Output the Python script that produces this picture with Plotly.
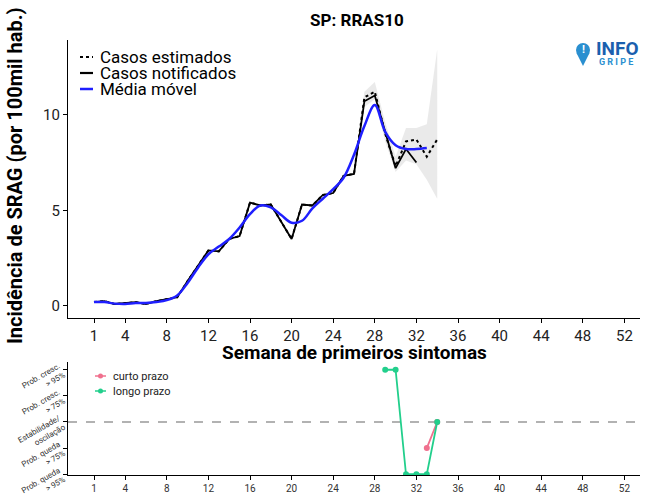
import plotly.graph_objects as go

# ---------------- data ----------------
weeks_notified = list(range(1, 33))
notified = [0.2, 0.25, 0.1, 0.15, 0.2, 0.1, 0.25, 0.35, 0.45, 1.3, 2.1, 2.9, 2.85, 3.5, 3.65, 5.4,
            5.25, 5.3, 4.4, 3.5, 5.3, 5.25, 5.8, 5.9, 6.8, 6.9, 10.7, 11.0, 9.1, 7.2, 8.2, 7.5]

weeks_estimated = list(range(1, 35))
estimated = [0.2, 0.25, 0.1, 0.15, 0.2, 0.1, 0.25, 0.35, 0.45, 1.3, 2.1, 2.9, 2.85, 3.5, 3.65, 5.4,
             5.25, 5.3, 4.4, 3.5, 5.3, 5.25, 5.8, 5.9, 6.8, 6.9, 10.9, 11.2, 9.0, 7.3, 8.6, 8.7, 7.8, 8.7]

weeks_ci = [26, 27, 28, 29, 30, 31, 32, 33, 34]
ci_lower = [6.8, 10.4, 10.8, 8.6, 7.0, 7.6, 7.4, 6.6, 5.6]
ci_upper = [7.1, 11.2, 11.7, 9.6, 7.8, 9.3, 9.3, 9.5, 13.4]

weeks_ma = list(range(1, 34))
moving_avg = [0.2, 0.2, 0.12, 0.1, 0.15, 0.15, 0.2, 0.3, 0.55, 1.2, 2.0, 2.7, 3.1, 3.5, 4.1, 4.8,
              5.25, 5.15, 4.75, 4.35, 4.45, 5.1, 5.6, 6.1, 6.7, 7.9, 9.4, 10.5, 9.1, 8.4, 8.2, 8.2, 8.25]

weeks_short = [33, 34]
trend_short = [-1, 0]
weeks_long = [29, 30, 31, 32, 33, 34]
trend_long = [2, 2, -2, -2, -2, 0]

x_ticks = [1, 4, 8, 12, 16, 20, 24, 28, 32, 36, 40, 44, 48, 52]
trend_levels = [-2, -1, 0, 1, 2]
trend_labels = ["Prob. queda<br>> 95%", "Prob. queda<br>> 75%", "Estabilidade/<br>oscilação",
                "Prob. cresc.<br>> 75%", "Prob. cresc.<br>> 95%"]

FONT = "Roboto"
BLUE = "#1f1fff"
PINK = "#f0708e"
GREEN = "#22cf8c"

fig = go.Figure()

# CI band
fig.add_trace(go.Scatter(x=weeks_ci, y=ci_upper, mode="lines", line=dict(width=0),
                         showlegend=False, hoverinfo="skip", xaxis="x", yaxis="y"))
fig.add_trace(go.Scatter(x=weeks_ci, y=ci_lower, mode="lines", line=dict(width=0),
                         fill="tonexty", fillcolor="rgba(170,170,170,0.25)",
                         showlegend=False, hoverinfo="skip", xaxis="x", yaxis="y"))

fig.add_trace(go.Scatter(x=weeks_estimated, y=estimated, mode="lines", name="Casos estimados",
                         line=dict(color="black", width=2, dash="dot"), showlegend=False,
                         xaxis="x", yaxis="y"))
fig.add_trace(go.Scatter(x=weeks_notified, y=notified, mode="lines", name="Casos notificados",
                         line=dict(color="black", width=1.8), showlegend=False, xaxis="x", yaxis="y"))
fig.add_trace(go.Scatter(x=weeks_ma, y=moving_avg, mode="lines", name="Média móvel",
                         line=dict(color=BLUE, width=2.5, shape="spline"), showlegend=False,
                         xaxis="x", yaxis="y"))

# trend panel
fig.add_trace(go.Scatter(x=weeks_short, y=trend_short, mode="lines+markers", name="curto prazo",
                         line=dict(color=PINK, width=1.8), marker=dict(size=6, color=PINK),
                         showlegend=False, xaxis="x2", yaxis="y2"))
fig.add_trace(go.Scatter(x=weeks_long, y=trend_long, mode="lines+markers", name="longo prazo",
                         line=dict(color=GREEN, width=1.8), marker=dict(size=6, color=GREEN),
                         showlegend=False, xaxis="x2", yaxis="y2"))

axis_common = dict(showline=True, linecolor="black", linewidth=1.3, ticks="outside",
                   ticklen=4, tickcolor="black", showgrid=False, zeroline=False, mirror=False,
                   automargin=False)

fig.update_layout(
    width=646, height=504,
    margin=dict(l=68, r=6, t=40, b=29),
    paper_bgcolor="white", plot_bgcolor="white",
    font=dict(family=FONT, color="#222"),
    showlegend=False,
    title=dict(text="<b>SP: RRAS10</b>", x=0.505, xref="paper", y=0.96, yanchor="middle",
               xanchor="center", font=dict(size=17, color="black", family=FONT)),
    xaxis=dict(domain=[0, 1], range=[-1.5, 53.5], tickvals=x_ticks, anchor="y",
               tickfont=dict(size=15, color="#222"), **axis_common),
    yaxis=dict(domain=[0.361, 1], range=[-0.63, 13.9], tickvals=[0, 5, 10], anchor="x",
               tickfont=dict(size=15, color="#222"), **axis_common),
    xaxis2=dict(domain=[0, 1], range=[-1.5, 53.5], tickvals=x_ticks, anchor="y2",
                tickfont=dict(size=10, color="#333"), **axis_common),
    yaxis2=dict(domain=[0, 0.26], range=[-2.03, 2.3], tickvals=trend_levels, ticktext=trend_labels,
                anchor="x2", tickangle=-30, ticklabeloverflow="allow",
                tickfont=dict(size=8, color="#333"), **axis_common),
)

# dashed stability line
fig.add_shape(type="line", xref="x2 domain", yref="y2", x0=0, x1=1, y0=0, y1=0,
              line=dict(color="#999", width=1.3, dash="dash"), layer="below")

# ---- legend (top panel), drawn manually for ggplot-like compact spacing ----
def px_x(px):
    return (px - 68) / 572.0

def px_y(py):
    return 1 - (py - 40) / 435.0

legend_items = [("Casos estimados", dict(color="black", width=2, dash="dot"), 57),
                ("Casos notificados", dict(color="black", width=2.2), 73),
                ("Média móvel", dict(color=BLUE, width=2.5), 89)]
for label, ln, py in legend_items:
    fig.add_shape(type="line", xref="paper", yref="paper", x0=px_x(80), x1=px_x(93),
                  y0=px_y(py), y1=px_y(py), line=ln)
    fig.add_annotation(text=label, xref="paper", yref="paper", x=px_x(98), y=px_y(py),
                       showarrow=False, xanchor="left", yanchor="middle",
                       font=dict(size=17, color="black", family=FONT))

# legend (bottom panel)
for label, col, py in [("curto prazo", PINK, 376), ("longo prazo", GREEN, 391)]:
    fig.add_shape(type="line", xref="paper", yref="paper", x0=px_x(95), x1=px_x(106),
                  y0=px_y(py), y1=px_y(py), line=dict(color=col, width=1.5))
    fig.add_shape(type="circle", xref="paper", yref="paper", xsizemode="pixel", ysizemode="pixel",
                  xanchor=px_x(100.5), yanchor=px_y(py), x0=-2.5, x1=2.5, y0=-2.5, y1=2.5,
                  fillcolor=col, line=dict(width=0))
    fig.add_annotation(text=label, xref="paper", yref="paper", x=px_x(111), y=px_y(py),
                       showarrow=False, xanchor="left", yanchor="middle",
                       font=dict(size=11, color="#222", family=FONT))

# axis titles
fig.add_annotation(text="<b>Semana de primeiros sintomas</b>", xref="paper", yref="paper",
                   x=px_x(354), y=px_y(352), showarrow=False,
                   font=dict(size=19, color="black", family=FONT),
                   xanchor="center", yanchor="middle")
fig.add_annotation(text="<b>Incidência de SRAG (por 100mil hab.)</b>", xref="paper", yref="paper",
                   x=px_x(15), y=px_y(176), showarrow=False, textangle=-90,
                   font=dict(size=20, color="black", family=FONT), xanchor="center", yanchor="middle")

# InfoGripe logo
cx, cy = px_x(583), px_y(50)
fig.add_shape(type="circle", xref="paper", yref="paper", xsizemode="pixel", ysizemode="pixel",
              xanchor=cx, yanchor=cy, x0=-7, x1=7, y0=-7, y1=7,
              fillcolor="#2a8fd0", line=dict(width=0))
fig.add_shape(type="path", xref="paper", yref="paper", xsizemode="pixel", ysizemode="pixel",
              xanchor=cx, yanchor=cy, path="M -6.5,-3 L 6.5,-3 L 0,-16 Z",
              fillcolor="#2a8fd0", line=dict(width=0))
fig.add_annotation(text="<b>!</b>", xref="paper", yref="paper", x=cx, y=cy,
                   showarrow=False, font=dict(size=11, color="white", family=FONT),
                   xanchor="center", yanchor="middle")
fig.add_annotation(text="<b>INFO</b>", xref="paper", yref="paper", x=px_x(594), y=px_y(48),
                   showarrow=False, font=dict(size=19, color="#1b5fae", family=FONT),
                   xanchor="left", yanchor="middle")
fig.add_annotation(text="<b>G R I P E</b>", xref="paper", yref="paper", x=px_x(597), y=px_y(62),
                   showarrow=False, font=dict(size=9, color="#2a8fd0", family=FONT),
                   xanchor="left", yanchor="middle")

fig.write_html("out.html", config={"displayModeBar": False},
               post_script="document.body.style.margin='0px';")
